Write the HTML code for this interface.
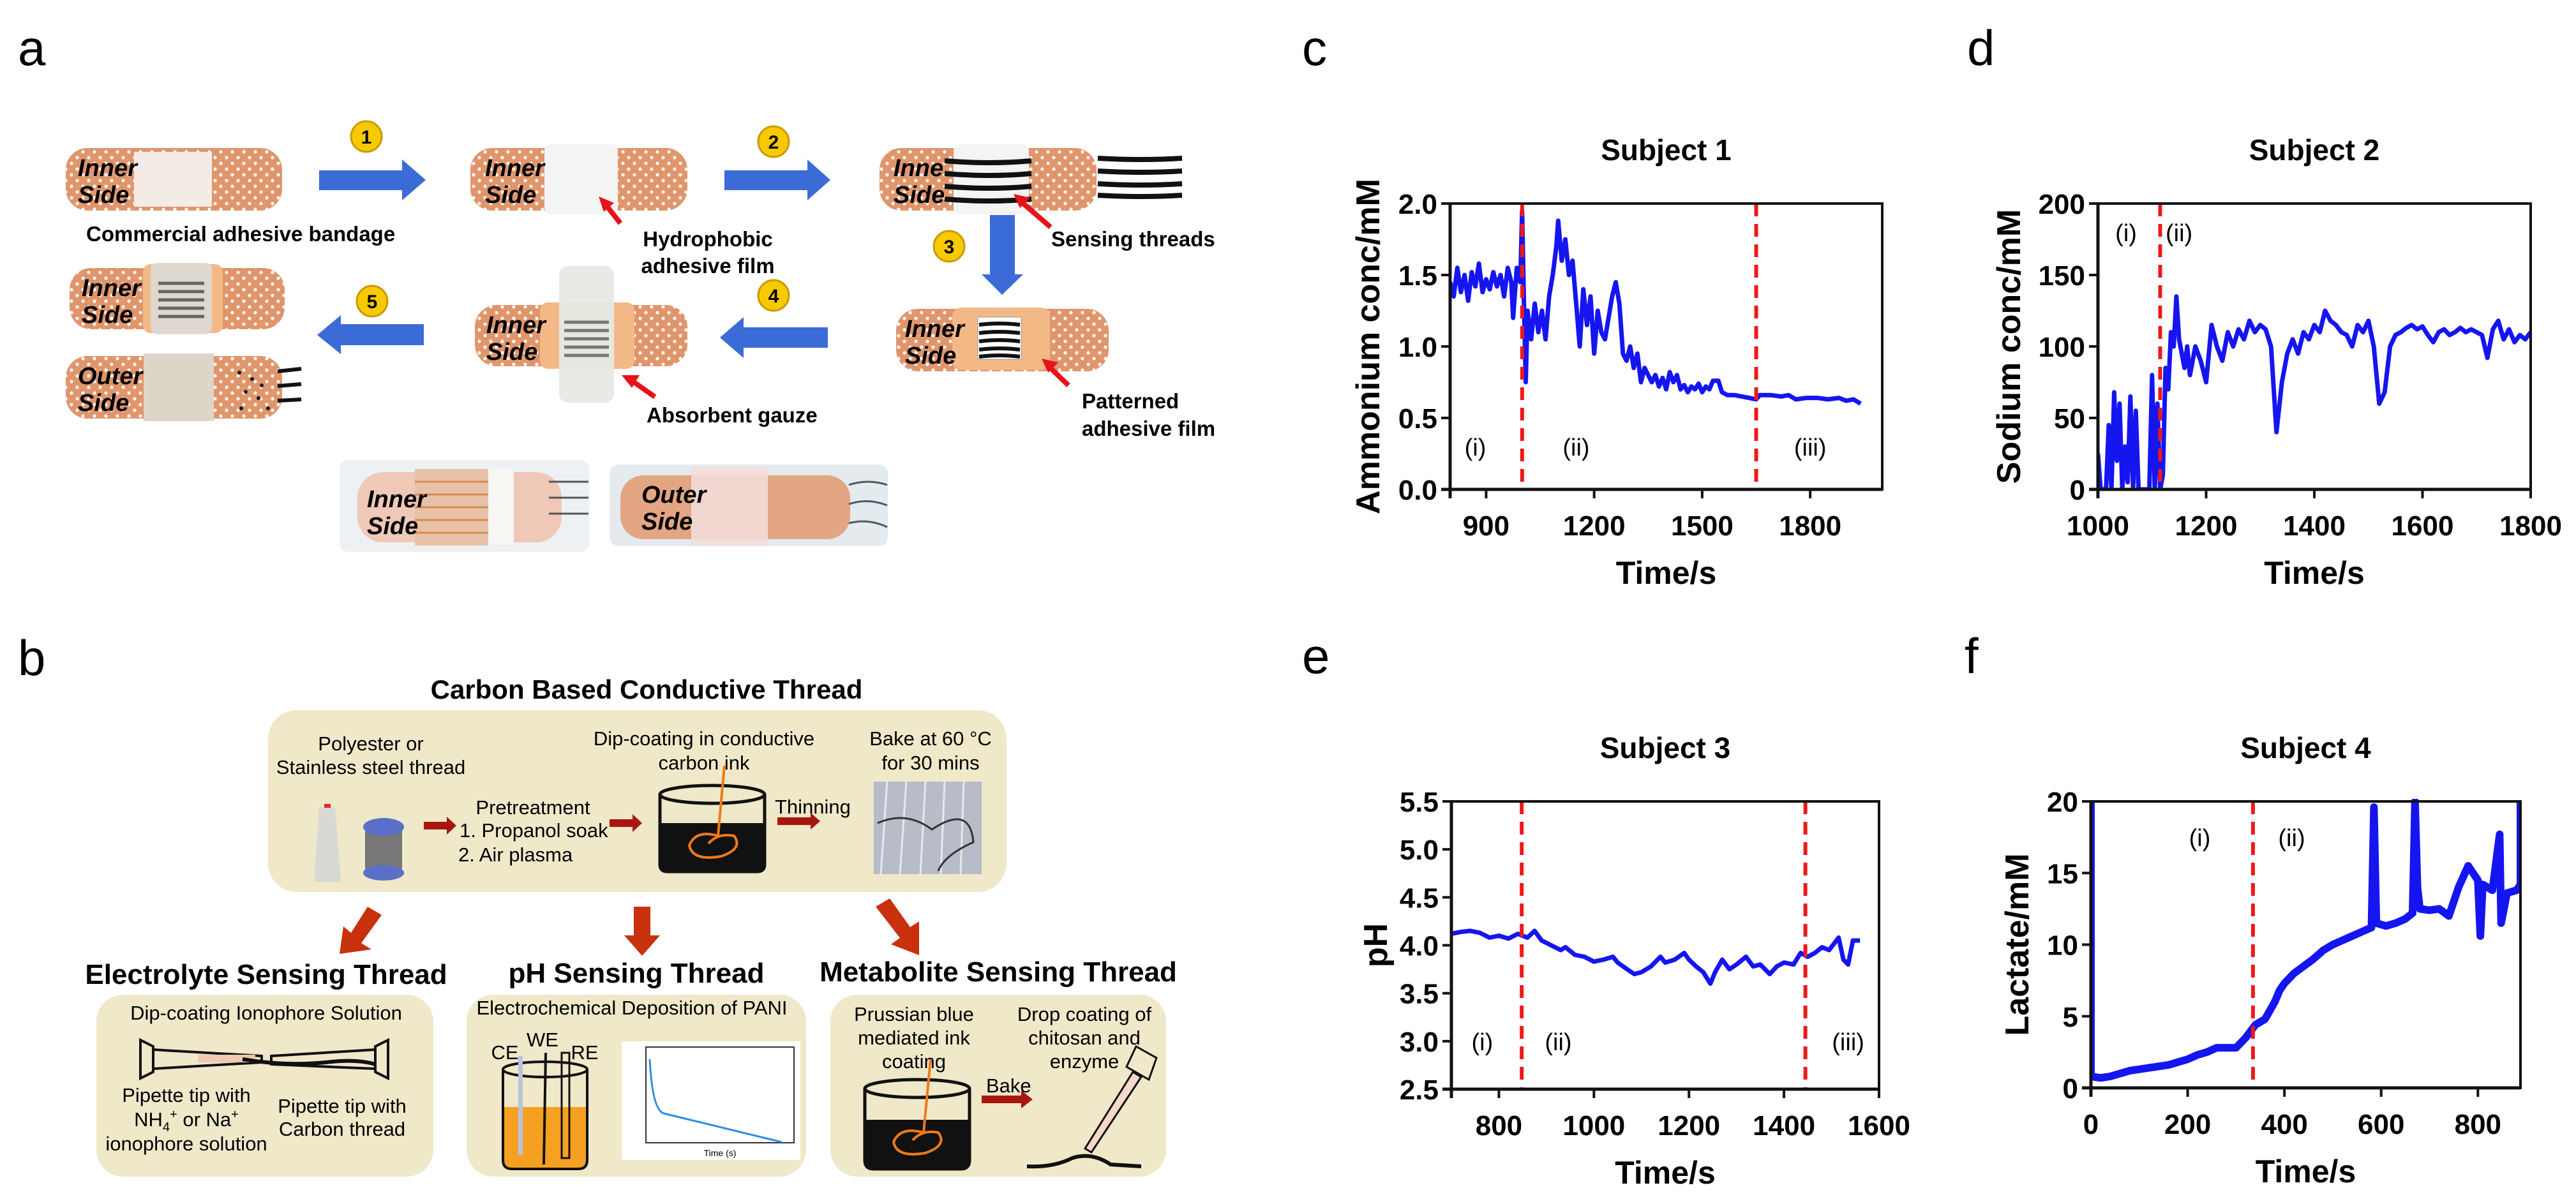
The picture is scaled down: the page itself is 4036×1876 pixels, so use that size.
<!DOCTYPE html>
<html><head><meta charset="utf-8"><style>
html,body{margin:0;padding:0;background:#fff;}
svg{display:block;font-family:"Liberation Sans Narrow","Liberation Sans",sans-serif;}
.tk{font-family:"Liberation Sans",sans-serif;font-weight:bold;}
</style></head><body>
<svg id="fig" width="4036" height="1876" viewBox="0 0 4036 1876" xmlns="http://www.w3.org/2000/svg">
<defs>
<pattern id="dots" width="18" height="18" patternUnits="userSpaceOnUse">
<circle cx="4" cy="4" r="2.6" fill="#fff"/><circle cx="13" cy="13" r="2.6" fill="#fff"/>
</pattern>
</defs>
<rect width="4036" height="1876" fill="#fff"/>

<!-- ============ PANEL A ============ -->
<g>
<text x="28" y="102" font-size="78" font-family="Liberation Sans, sans-serif">a</text>

<g>
<rect x="103" y="232" width="339" height="98" rx="34" fill="#e0956b"/>
<rect x="103" y="232" width="339" height="98" rx="34" fill="url(#dots)"/>
<rect x="210" y="238" width="122" height="86" fill="#f5ebe6"/>
<text x="122" y="276" font-size="38" font-weight="bold" font-style="italic">Inner</text>
<text x="122" y="318" font-size="38" font-weight="bold" font-style="italic">Side</text>
</g>
<text x="135" y="378" font-size="33" font-weight="bold">Commercial adhesive bandage</text>

<polygon points="500,267 630,267 630,250 667,282 630,314 630,298 500,298" fill="#3a6bd6"/>
<g><circle cx="574" cy="214" r="24" fill="#f7c900" stroke="#c99a00" stroke-width="3"/><text x="574" y="225" font-size="30" font-weight="bold" text-anchor="middle">1</text></g>

<g>
<rect x="737" y="232" width="340" height="98" rx="34" fill="#e0956b"/>
<rect x="737" y="232" width="340" height="98" rx="34" fill="url(#dots)"/>
<rect x="853" y="226" width="115" height="110" rx="10" fill="#f4f4f4"/>
<text x="760" y="276" font-size="38" font-weight="bold" font-style="italic">Inner</text>
<text x="760" y="318" font-size="38" font-weight="bold" font-style="italic">Side</text>
</g>
<path d="M972,350 L950,322" stroke="#e8121a" stroke-width="8"/><polygon points="938,308 962,318 946,332" fill="#e8121a"/>
<text x="1109" y="386" font-size="33" font-weight="bold" text-anchor="middle">Hydrophobic</text>
<text x="1109" y="428" font-size="33" font-weight="bold" text-anchor="middle">adhesive film</text>

<polygon points="1135,267 1265,267 1265,250 1301,282 1265,314 1265,298 1135,298" fill="#3a6bd6"/>
<g><circle cx="1212" cy="222" r="24" fill="#f7c900" stroke="#c99a00" stroke-width="3"/><text x="1212" y="233" font-size="30" font-weight="bold" text-anchor="middle">2</text></g>

<g>
<rect x="1378" y="232" width="340" height="98" rx="34" fill="#e0956b"/>
<rect x="1378" y="232" width="340" height="98" rx="34" fill="url(#dots)"/>
<rect x="1494" y="226" width="118" height="110" rx="10" fill="#f4f4f4"/>
<text x="1400" y="276" font-size="38" font-weight="bold" font-style="italic">Inne</text>
<text x="1400" y="318" font-size="38" font-weight="bold" font-style="italic">Side</text>
<g stroke="#111" stroke-width="8" fill="none">
<path d="M1480,252 Q1550,258 1616,252"/><path d="M1480,272 Q1550,278 1616,272"/><path d="M1480,292 Q1550,298 1616,292"/><path d="M1480,312 Q1550,318 1616,312"/>
<path d="M1720,248 Q1790,252 1852,248"/><path d="M1720,268 Q1790,272 1852,268"/><path d="M1720,288 Q1790,292 1852,288"/><path d="M1720,306 Q1790,310 1852,306"/>
</g>
</g>
<path d="M1646,356 L1602,318" stroke="#e8121a" stroke-width="8"/><polygon points="1588,304 1614,310 1598,326" fill="#e8121a"/>
<text x="1647" y="386" font-size="33" font-weight="bold">Sensing threads</text>

<polygon points="1551,337 1590,337 1590,430 1603,430 1570,462 1538,430 1551,430" fill="#3a6bd6"/>
<g><circle cx="1487" cy="386" r="24" fill="#f7c900" stroke="#c99a00" stroke-width="3"/><text x="1487" y="397" font-size="30" font-weight="bold" text-anchor="middle">3</text></g>

<g>
<rect x="1404" y="484" width="333" height="98" rx="34" fill="#e0956b"/>
<rect x="1404" y="484" width="333" height="98" rx="34" fill="url(#dots)"/>
<rect x="1492" y="482" width="153" height="98" rx="14" fill="#f2b987"/>
<rect x="1532" y="497" width="68" height="66" fill="#fff" stroke="#999" stroke-width="1"/>
<g stroke="#111" stroke-width="6" fill="none">
<path d="M1534,509 Q1566,505 1598,509"/><path d="M1534,522 Q1566,518 1598,522"/><path d="M1534,535 Q1566,531 1598,535"/><path d="M1534,548 Q1566,544 1598,548"/><path d="M1534,559 Q1566,555 1598,559"/>
</g>
<text x="1418" y="528" font-size="38" font-weight="bold" font-style="italic">Inner</text>
<text x="1418" y="570" font-size="38" font-weight="bold" font-style="italic">Side</text>
</g>
<path d="M1674,604 L1645,576" stroke="#e8121a" stroke-width="8"/><polygon points="1632,562 1658,568 1642,584" fill="#e8121a"/>
<text x="1695" y="640" font-size="33" font-weight="bold">Patterned</text>
<text x="1695" y="683" font-size="33" font-weight="bold">adhesive film</text>

<polygon points="1297,513 1165,513 1165,497 1128,529 1165,561 1165,545 1297,545" fill="#3a6bd6"/>
<g><circle cx="1212" cy="463" r="24" fill="#f7c900" stroke="#c99a00" stroke-width="3"/><text x="1212" y="474" font-size="30" font-weight="bold" text-anchor="middle">4</text></g>

<g>
<rect x="744" y="478" width="333" height="96" rx="34" fill="#e0956b"/>
<rect x="744" y="478" width="333" height="96" rx="34" fill="url(#dots)"/>
<rect x="846" y="474" width="148" height="104" rx="12" fill="#f2b987"/>
<rect x="876" y="417" width="86" height="214" rx="14" fill="#e6e9e4" opacity="0.95"/>
<g stroke="#777" stroke-width="5" fill="none"><path d="M884,505 H954"/><path d="M884,518 H954"/><path d="M884,531 H954"/><path d="M884,544 H954"/><path d="M884,557 H954"/></g>
<text x="762" y="522" font-size="38" font-weight="bold" font-style="italic">Inner</text>
<text x="762" y="564" font-size="38" font-weight="bold" font-style="italic">Side</text>
</g>
<path d="M1026,622 L992,598" stroke="#e8121a" stroke-width="8"/><polygon points="974,588 1002,588 990,608" fill="#e8121a"/>
<text x="1013" y="662" font-size="33" font-weight="bold">Absorbent gauze</text>

<polygon points="664,508 534,508 534,494 497,525 534,555 534,541 664,541" fill="#3a6bd6"/>
<g><circle cx="583" cy="472" r="24" fill="#f7c900" stroke="#c99a00" stroke-width="3"/><text x="583" y="483" font-size="30" font-weight="bold" text-anchor="middle">5</text></g>

<g>
<rect x="109" y="420" width="337" height="96" rx="34" fill="#e0956b"/>
<rect x="109" y="420" width="337" height="96" rx="34" fill="url(#dots)"/>
<rect x="224" y="414" width="125" height="108" rx="12" fill="#f2b987"/>
<rect x="236" y="412" width="96" height="112" rx="10" fill="#dcdcd6" opacity="0.9"/>
<g stroke="#666" stroke-width="5" fill="none"><path d="M248,444 H320"/><path d="M248,457 H320"/><path d="M248,470 H320"/><path d="M248,483 H320"/><path d="M248,496 H320"/></g>
<text x="128" y="464" font-size="38" font-weight="bold" font-style="italic">Inner</text>
<text x="128" y="506" font-size="38" font-weight="bold" font-style="italic">Side</text>
</g>
<g>
<rect x="103" y="558" width="339" height="98" rx="34" fill="#e0956b"/>
<rect x="103" y="558" width="339" height="98" rx="34" fill="url(#dots)"/>
<rect x="225" y="554" width="110" height="106" fill="#dcd5c8"/>
<g fill="#111"><circle cx="375" cy="584" r="3"/><circle cx="395" cy="594" r="3"/><circle cx="385" cy="614" r="3"/><circle cx="405" cy="624" r="3"/><circle cx="378" cy="640" r="3"/><circle cx="410" cy="604" r="3"/><circle cx="420" cy="640" r="3"/></g>
<g stroke="#111" stroke-width="6"><path d="M435,582 L472,578"/><path d="M435,605 L472,602"/><path d="M435,628 L472,626"/></g>
<text x="122" y="602" font-size="38" font-weight="bold" font-style="italic">Outer</text>
<text x="122" y="644" font-size="38" font-weight="bold" font-style="italic">Side</text>
</g>

<g>
<rect x="532" y="721" width="391" height="144" rx="14" fill="#eef1f3"/>
<rect x="560" y="740" width="320" height="110" rx="40" fill="#f0c8b8"/>
<rect x="650" y="735" width="115" height="120" fill="#e8c2a8"/>
<g stroke="#d88a50" stroke-width="3"><path d="M650,755 H765"/><path d="M650,775 H765"/><path d="M650,795 H765"/><path d="M650,815 H765"/><path d="M650,835 H765"/></g>
<rect x="765" y="735" width="40" height="118" fill="#f6f6f2"/>
<g stroke="#555" stroke-width="3"><path d="M860,755 H922"/><path d="M860,780 H922"/><path d="M860,805 H922"/></g>
<text x="575" y="795" font-size="38" font-weight="bold" font-style="italic">Inner</text>
<text x="575" y="837" font-size="38" font-weight="bold" font-style="italic">Side</text>
</g>
<g>
<rect x="955" y="728" width="436" height="128" rx="14" fill="#e4eaee"/>
<rect x="972" y="745" width="360" height="100" rx="36" fill="#e3a582"/>
<rect x="1083" y="733" width="120" height="122" fill="#f3ddd8" opacity="0.9"/>
<g stroke="#4a5a60" stroke-width="3" fill="none"><path d="M1330,760 Q1360,750 1390,760"/><path d="M1330,790 Q1360,780 1390,792"/><path d="M1330,820 Q1360,812 1390,826"/></g>
<text x="1005" y="788" font-size="38" font-weight="bold" font-style="italic">Outer</text>
<text x="1005" y="830" font-size="38" font-weight="bold" font-style="italic">Side</text>
</g>
</g>

<!-- ============ PANEL B ============ -->
<g>
<text x="28" y="1058" font-size="78" font-family="Liberation Sans, sans-serif">b</text>
<text x="1013" y="1095" font-size="42" font-weight="bold" text-anchor="middle">Carbon Based Conductive Thread</text>
<rect x="420" y="1113" width="1157" height="285" rx="45" fill="#efe8c9"/>
<text x="581" y="1176" font-size="31" text-anchor="middle">Polyester or</text>
<text x="581" y="1213" font-size="31" text-anchor="middle">Stainless steel thread</text>
<g>
<polygon points="500,1265 525,1265 534,1382 492,1382" fill="#d9d9d4"/><rect x="508" y="1260" width="10" height="6" fill="#e22"/>
<rect x="572" y="1292" width="58" height="75" rx="8" fill="#777"/><ellipse cx="601" cy="1296" rx="32" ry="14" fill="#5a6fc8"/><ellipse cx="601" cy="1368" rx="32" ry="12" fill="#5a6fc8"/>
</g>
<polygon points="664,1288 700,1288 700,1280 715,1294 700,1308 700,1300 664,1300" fill="#a8170f"/>
<text x="835" y="1276" font-size="31" text-anchor="middle">Pretreatment</text>
<text x="720" y="1312" font-size="31">1. Propanol soak</text>
<text x="718" y="1350" font-size="31">2. Air plasma</text>
<polygon points="955,1284 991,1284 991,1276 1006,1290 991,1304 991,1296 955,1296" fill="#a8170f"/>
<text x="1103" y="1168" font-size="31" text-anchor="middle">Dip-coating in conductive</text>
<text x="1103" y="1206" font-size="31" text-anchor="middle">carbon ink</text>
<g>
<path d="M1034,1245 L1034,1355 Q1034,1366 1046,1366 L1186,1366 Q1198,1366 1198,1355 L1198,1245" fill="none" stroke="#111" stroke-width="5"/>
<path d="M1036,1290 L1196,1290 L1196,1356 Q1196,1364 1186,1364 L1046,1364 Q1036,1364 1036,1356 Z" fill="#111"/>
<ellipse cx="1116" cy="1245" rx="82" ry="14" fill="none" stroke="#111" stroke-width="5"/>
<path d="M1135,1200 L1125,1310 Q1090,1300 1080,1325 Q1085,1350 1130,1342 Q1165,1330 1150,1310 Q1125,1305 1110,1322" fill="none" stroke="#f07a1a" stroke-width="4"/>
</g>
<text x="1214" y="1275" font-size="31">Thinning</text>
<polygon points="1218,1281 1270,1281 1270,1274 1285,1287 1270,1300 1270,1293 1218,1293" fill="#a8170f"/>
<text x="1458" y="1168" font-size="31" text-anchor="middle">Bake at 60 °C</text>
<text x="1458" y="1206" font-size="31" text-anchor="middle">for 30 mins</text>
<g>
<rect x="1369" y="1225" width="169" height="145" fill="#b7bcc8"/>
<g stroke="#e8e8ea" stroke-width="3"><path d="M1390,1225 L1380,1370"/><path d="M1420,1225 L1410,1370"/><path d="M1450,1225 L1442,1370"/><path d="M1480,1225 L1474,1370"/><path d="M1510,1225 L1505,1370"/></g>
<path d="M1375,1290 Q1420,1270 1460,1300 Q1520,1260 1525,1320 Q1480,1340 1470,1365" fill="none" stroke="#333" stroke-width="3"/>
</g>

<polygon points="576,1421 598,1434 566,1478 582,1488 532,1495 538,1452 550,1462" fill="#c8300e"/>
<polygon points="993,1421 1019,1421 1019,1466 1034,1466 1006,1498 978,1466 993,1466" fill="#c8300e"/>
<polygon points="1372,1421 1394,1408 1426,1453 1440,1444 1440,1497 1396,1480 1410,1470" fill="#c8300e"/>

<text x="417" y="1542" font-size="44" font-weight="bold" text-anchor="middle">Electrolyte Sensing Thread</text>
<text x="997" y="1540" font-size="44" font-weight="bold" text-anchor="middle">pH Sensing Thread</text>
<text x="1564" y="1538" font-size="44" font-weight="bold" text-anchor="middle">Metabolite Sensing Thread</text>

<rect x="151" y="1559" width="528" height="285" rx="42" fill="#efe8c9"/>
<rect x="731" y="1559" width="532" height="285" rx="42" fill="#efe8c9"/>
<rect x="1301" y="1559" width="526" height="285" rx="42" fill="#efe8c9"/>

<text x="417" y="1598" font-size="31" text-anchor="middle">Dip-coating Ionophore Solution</text>
<g fill="none" stroke="#111" stroke-width="4">
<path d="M220,1630 L240,1640 L240,1680 L220,1690 Z"/><path d="M240,1645 L410,1655 L410,1665 L240,1675"/>
<rect x="310" y="1653" width="90" height="12" fill="#f3c7b1" stroke="none"/>
<path d="M608,1630 L588,1640 L588,1680 L608,1690 Z"/><path d="M588,1645 L425,1655 L425,1668 L588,1675"/>
<path d="M380,1660 Q450,1672 520,1664 Q560,1660 588,1668" stroke-width="6"/>
</g>
<text x="292" y="1727" font-size="31" text-anchor="middle">Pipette tip with</text>
<text x="292" y="1765" font-size="31" text-anchor="middle">NH<tspan font-size="20" dy="8">4</tspan><tspan font-size="20" dy="-20">+</tspan><tspan dy="12"> or Na</tspan><tspan font-size="20" dy="-12">+</tspan></text>
<text x="292" y="1803" font-size="31" text-anchor="middle">ionophore solution</text>
<text x="536" y="1744" font-size="31" text-anchor="middle">Pipette tip with</text>
<text x="536" y="1780" font-size="31" text-anchor="middle">Carbon thread</text>

<text x="990" y="1590" font-size="31" text-anchor="middle">Electrochemical Deposition of PANI</text>
<g>
<path d="M788,1735 L920,1735 L920,1818 Q920,1832 906,1832 L802,1832 Q788,1832 788,1818 Z" fill="#f5a020"/>
<path d="M788,1676 L788,1818 Q788,1832 802,1832 L906,1832 Q920,1832 920,1818 L920,1676" fill="none" stroke="#111" stroke-width="4"/>
<ellipse cx="854" cy="1676" rx="66" ry="12" fill="none" stroke="#111" stroke-width="4"/>
<rect x="812" y="1655" width="7" height="155" fill="#b8c4de"/>
<path d="M855,1650 L852,1825" stroke="#111" stroke-width="4"/>
<rect x="880" y="1650" width="12" height="165" fill="none" stroke="#111" stroke-width="3"/>
</g>
<text x="791" y="1660" font-size="31" text-anchor="middle">CE</text>
<text x="850" y="1640" font-size="31" text-anchor="middle">WE</text>
<text x="916" y="1660" font-size="31" text-anchor="middle">RE</text>
<g>
<rect x="974" y="1632" width="280" height="186" fill="#fff"/>
<rect x="1012" y="1641" width="232" height="150" fill="none" stroke="#333" stroke-width="2"/>
<path d="M1018,1660 Q1022,1740 1040,1745 L1225,1790" fill="none" stroke="#2b8de0" stroke-width="3"/>
<text x="1128" y="1812" font-size="14" text-anchor="middle">Time (s)</text>
</g>

<text x="1432" y="1600" font-size="31" text-anchor="middle">Prussian blue</text>
<text x="1432" y="1637" font-size="31" text-anchor="middle">mediated ink</text>
<text x="1432" y="1674" font-size="31" text-anchor="middle">coating</text>
<g>
<path d="M1355,1706 L1355,1818 Q1355,1832 1368,1832 L1506,1832 Q1519,1832 1519,1818 L1519,1706" fill="none" stroke="#111" stroke-width="5"/>
<path d="M1357,1755 L1517,1755 L1517,1820 Q1517,1830 1506,1830 L1368,1830 Q1357,1830 1357,1820 Z" fill="#111"/>
<ellipse cx="1437" cy="1706" rx="82" ry="14" fill="none" stroke="#111" stroke-width="5"/>
<path d="M1458,1660 L1447,1775 Q1410,1765 1400,1790 Q1405,1815 1450,1807 Q1485,1795 1470,1775 Q1445,1770 1430,1787" fill="none" stroke="#f07a1a" stroke-width="4"/>
</g>
<text x="1545" y="1712" font-size="31">Bake</text>
<polygon points="1538,1717 1600,1717 1600,1709 1618,1723 1600,1737 1600,1729 1538,1729" fill="#a8170f"/>
<text x="1699" y="1600" font-size="31" text-anchor="middle">Drop coating of</text>
<text x="1699" y="1637" font-size="31" text-anchor="middle">chitosan and</text>
<text x="1699" y="1674" font-size="31" text-anchor="middle">enzyme</text>
<g>
<path d="M1775,1680 L1700,1800 L1710,1806 L1788,1688 Z" fill="#f6d8c8" stroke="#111" stroke-width="3"/>
<path d="M1765,1672 L1800,1692 L1812,1658 L1780,1640 Z" fill="none" stroke="#111" stroke-width="3"/>
<path d="M1609,1828 Q1650,1830 1680,1815 Q1710,1805 1740,1825 L1788,1828" fill="none" stroke="#111" stroke-width="6"/>
</g>
</g>

<g id="charts"></g>
</svg>

<script>
// ---- chart c: Subject 1 ammonium ----
const cTimes=[800,810,820,830,840,850,860,870,880,890,900,910,920,930,940,950,960,970,975,985,995,1000,1005,1010,1015,1025,1035,1045,1055,1065,1075,1085,1095,1100,1110,1120,1130,1140,1150,1160,1170,1180,1190,1200,1210,1220,1230,1240,1250,1260,1270,1280,1290,1300,1310,1320,1330,1340,1350,1360,1370,1380,1390,1400,1410,1420,1430,1440,1450,1460,1470,1480,1490,1500,1510,1520,1530,1545,1555,1570,1590,1610,1630,1650,1660,1690,1720,1740,1760,1790,1820,1850,1880,1900,1920,1940];
const cVals=[1.45,1.35,1.55,1.38,1.5,1.32,1.52,1.42,1.58,1.38,1.47,1.4,1.52,1.42,1.5,1.35,1.55,1.45,1.2,1.55,1.45,1.95,1.3,0.75,1.25,1.05,1.3,1.1,1.25,1.05,1.35,1.5,1.7,1.88,1.6,1.75,1.5,1.6,1.3,1.0,1.4,1.15,1.35,0.95,1.25,1.1,1.05,1.2,1.35,1.45,1.3,0.95,0.9,1.0,0.85,0.95,0.75,0.85,0.8,0.75,0.8,0.72,0.78,0.7,0.82,0.75,0.8,0.7,0.73,0.68,0.72,0.7,0.74,0.68,0.72,0.7,0.76,0.76,0.68,0.66,0.66,0.65,0.64,0.63,0.66,0.66,0.65,0.66,0.63,0.64,0.64,0.63,0.64,0.62,0.63,0.6];
const cXTicks=[900,1200,1500,1800];
const cYTicks=[0,0.5,1.0,1.5,2.0];
const cYLabels=['0.0','0.5','1.0','1.5','2.0'];
const cDividers=[1000,1650];
const cRegions=['(i)','(ii)','(iii)'];
const cRegionX=[870,1150,1800];

// ---- chart d: Subject 2 sodium ----
const dTimes=[1000,1005,1015,1020,1025,1030,1035,1040,1045,1050,1055,1060,1065,1070,1075,1085,1095,1100,1105,1110,1115,1120,1125,1130,1135,1140,1145,1150,1160,1165,1170,1180,1190,1200,1210,1220,1230,1240,1250,1260,1270,1280,1290,1300,1310,1320,1330,1340,1350,1360,1370,1380,1390,1400,1410,1420,1430,1440,1450,1460,1470,1480,1490,1500,1510,1520,1530,1540,1550,1560,1570,1580,1590,1600,1610,1620,1630,1640,1650,1660,1670,1680,1690,1700,1710,1720,1730,1740,1750,1760,1770,1780,1790,1800];
const dVals=[25,0,0,45,0,68,20,60,0,30,5,65,0,55,0,0,0,80,0,60,0,10,85,70,110,100,135,105,85,100,80,100,90,75,115,100,90,110,100,112,105,118,110,115,112,100,40,75,95,105,95,110,105,115,110,125,118,115,110,108,100,115,110,118,100,60,68,100,108,110,113,115,112,114,108,103,110,112,108,110,113,110,112,110,108,92,112,118,105,112,103,108,105,110];
const dXTicks=[1000,1200,1400,1600,1800];
const dYTicks=[0,50,100,150,200];
const dYLabels=['0','50','100','150','200'];
const dDividers=[1115];
const dRegions=['(i)','(ii)'];
const dRegionX=[1052,1150];

// ---- chart e: Subject 3 pH ----
const eTimes=[700,720,740,760,780,800,820,840,860,875,890,910,930,940,960,980,1000,1020,1040,1050,1070,1085,1100,1120,1140,1150,1170,1190,1200,1215,1230,1245,1255,1270,1285,1300,1320,1335,1350,1370,1385,1400,1420,1435,1450,1465,1480,1495,1515,1525,1535,1545,1560];
const eVals=[4.12,4.14,4.15,4.13,4.08,4.1,4.07,4.12,4.08,4.15,4.05,4.0,3.95,3.98,3.9,3.88,3.83,3.85,3.88,3.82,3.75,3.7,3.72,3.78,3.88,3.82,3.85,3.92,3.85,3.78,3.72,3.6,3.72,3.85,3.75,3.8,3.88,3.78,3.8,3.7,3.78,3.82,3.8,3.92,3.88,3.92,3.98,3.95,4.08,3.85,3.8,4.05,4.05];
const eXTicks=[800,1000,1200,1400,1600];
const eYTicks=[2.5,3.0,3.5,4.0,4.5,5.0,5.5];
const eYLabels=['2.5','3.0','3.5','4.0','4.5','5.0','5.5'];
const eDividers=[848,1445];
const eRegions=['(i)','(ii)','(iii)'];
const eRegionX=[765,925,1535];

// ---- chart f: Subject 4 lactate ----
const fTimes=[0,0,20,40,60,80,100,120,140,160,180,200,220,240,260,280,300,320,340,360,380,390,400,420,440,460,480,500,520,540,560,580,585,590,610,630,650,665,670,675,680,700,720,740,760,780,790,800,805,810,830,845,848,860,880,888,888];
const fVals=[20,0.8,0.7,0.8,1.0,1.2,1.3,1.4,1.5,1.6,1.8,2.0,2.3,2.5,2.8,2.8,2.8,3.5,4.4,4.8,6.0,6.8,7.3,8.0,8.5,9.0,9.6,10.0,10.3,10.6,10.9,11.2,19.6,11.5,11.3,11.5,11.8,12.2,20,14,12.5,12.4,12.5,12.0,14.0,15.5,15.0,14.5,10.6,14.2,13.8,17.7,11.5,13.6,13.8,14.2,20];
const fXTicks=[0,200,400,600,800];
const fYTicks=[0,5,10,15,20];
const fYLabels=['0','5','10','15','20'];
const fDividers=[335];
const fRegions=['(i)','(ii)'];
const fRegionX=[225,415];

const NS='http://www.w3.org/2000/svg';
const root=document.getElementById('charts');
function el(tag,attrs,parent){const e=document.createElementNS(NS,tag);for(const k in attrs)e.setAttribute(k,attrs[k]);(parent||root).appendChild(e);return e;}

function chart(id,box,xr,yr,times,vals,xt,yt,yl,divs,regs,regX,regY,title,ytitle,ytOff,letter,letterPos,lw){
  const g=el('g',{});
  
  
  const X=v=>box.l+(v-xr[0])/(xr[1]-xr[0])*(box.r-box.l);
  const Y=v=>box.b-(v-yr[0])/(yr[1]-yr[0])*(box.b-box.t);
  const lt=el('text',{x:letterPos[0],y:letterPos[1],'font-size':78,'font-family':'Liberation Sans, sans-serif'},g);
  lt.textContent=letter;
  
  
  const tt=el('text',{x:(box.l+box.r)/2,y:box.t-68,'font-size':46,'text-anchor':'middle',class:'tk'},g);
  tt.textContent=title;
  
  
  let d='';
  for(let i=0;i<times.length;i++){d+=(i?'L':'M')+X(times[i]).toFixed(1)+','+Y(vals[i]).toFixed(1);}
  const clip=el('clipPath',{id:'clip-'+id},g);
  el('rect',{x:box.l,y:box.t-4,width:box.r-box.l,height:box.b-box.t+4},clip);
  const ln=el('path',{d:d,fill:'none',stroke:'#1515f0','stroke-width':lw,'stroke-linejoin':'round','clip-path':'url(#clip-'+id+')'},g);
  
  
  for(const dv of divs){
    const r=el('line',{x1:X(dv),x2:X(dv),y1:box.t,y2:box.b,stroke:'#f01818','stroke-width':6,'stroke-dasharray':'20,12'},g);
    
    
  }
  for(let i=0;i<regs.length;i++){
    const t=el('text',{x:X(regX[i]),y:Y(regY)+14,'font-size':38,'text-anchor':'middle'},g);
    t.textContent=regs[i];
    
    
  }
  const fr=el('rect',{x:box.l,y:box.t,width:box.r-box.l,height:box.b-box.t,fill:'none',stroke:'#111','stroke-width':4},g);
  
  
  el('line',{x1:box.l,x2:box.l,y1:box.t,y2:box.b+14,stroke:'#111','stroke-width':5},g);
  el('line',{x1:box.l-14,x2:box.r,y1:box.b,y2:box.b,stroke:'#111','stroke-width':5},g);
  for(const v of xt){
    el('line',{x1:X(v),x2:X(v),y1:box.b,y2:box.b+14,stroke:'#111','stroke-width':4},g);
    const t=el('text',{x:X(v),y:box.b+72,'font-size':44,'text-anchor':'middle',class:'tk'},g);
    t.textContent=String(v);
    
    
  }
  for(let i=0;i<yt.length;i++){
    el('line',{x1:box.l-14,x2:box.l,y1:Y(yt[i]),y2:Y(yt[i]),stroke:'#111','stroke-width':4},g);
    const t=el('text',{x:box.l-20,y:Y(yt[i])+16,'font-size':44,'text-anchor':'end',class:'tk'},g);
    t.textContent=yl[i];
    
    
  }
  const xa=el('text',{x:(box.l+box.r)/2,y:box.b+148,'font-size':50,'text-anchor':'middle',class:'tk'},g);
  xa.textContent='Time/s';
  
  
  const cy=(box.t+box.b)/2, cx=box.l-ytOff;
  const ya=el('text',{x:cx,y:cy,'font-size':52,'text-anchor':'middle','dominant-baseline':'central',class:'tk',transform:'rotate(-90 '+cx+' '+cy+')'},g);
  ya.textContent=ytitle;
  
  
}

chart('chart-c-subject1',{l:2272,r:2949,t:319,b:767},[800,2000],[0,2],cTimes,cVals,cXTicks,cYTicks,cYLabels,cDividers,cRegions,cRegionX,0.3,'Subject 1','Ammonium conc/mM',128,'c',[2040,102],7);
chart('chart-d-subject2',{l:3287,r:3965,t:319,b:767},[1000,1800],[0,200],dTimes,dVals,dXTicks,dYTicks,dYLabels,dDividers,dRegions,dRegionX,180,'Subject 2','Sodium conc/mM',139,'d',[3082,102],7);
chart('chart-e-subject3',{l:2274,r:2944,t:1256,b:1707},[700,1600],[2.5,5.5],eTimes,eVals,eXTicks,eYTicks,eYLabels,eDividers,eRegions,eRegionX,3.0,'Subject 3','pH',118,'e',[2040,1055],7);
chart('chart-f-subject4',{l:3276,r:3949,t:1256,b:1705},[0,888],[0,20],fTimes,fVals,fXTicks,fYTicks,fYLabels,fDividers,fRegions,fRegionX,17.5,'Subject 4','Lactate/mM',115,'f',[3078,1055],12);
</script>
</body></html>
